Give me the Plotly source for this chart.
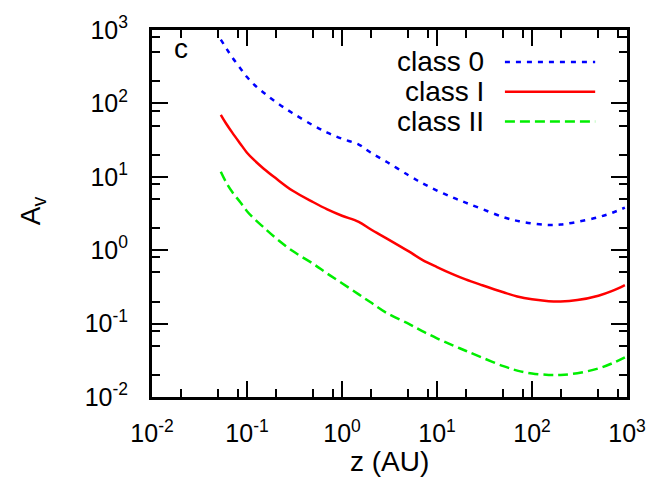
import plotly.graph_objects as go

# ---- data ----
z_au = [0.053, 0.06, 0.07, 0.085, 0.1, 0.12, 0.15, 0.2, 0.3, 0.5, 0.7, 1.0, 1.5, 2.0, 3.0,
        5.0, 7.0, 10, 15, 20, 30, 50, 70, 100, 150, 200, 300, 500, 700, 950]

av_class0 = [741, 575, 422, 302, 229, 178, 140, 105, 74, 50, 40, 33, 27.5, 21.4, 15.8,
             10.5, 8.2, 6.5, 5.15, 4.45, 3.63, 2.82, 2.51, 2.32, 2.21, 2.24, 2.43, 2.82, 3.24, 3.8]

av_classI = [70, 53.7, 40, 28.3, 21.3, 16.7, 12.9, 9.6, 6.5, 4.5, 3.6, 2.95, 2.43, 1.93, 1.43,
             0.97, 0.74, 0.59, 0.465, 0.40, 0.333, 0.267, 0.234, 0.214, 0.202, 0.20, 0.209, 0.24, 0.279, 0.335]

av_classII = [11.7, 8.5, 6.2, 4.5, 3.4, 2.65, 2.04, 1.47, 0.98, 0.65, 0.48, 0.355, 0.25, 0.195, 0.138,
              0.1, 0.079, 0.063, 0.050, 0.0427, 0.0343, 0.0263, 0.0229, 0.0209, 0.020, 0.020, 0.0211,
              0.0245, 0.0288, 0.0347]

series_names = ["class 0", "class I", "class II"]
series_values = [av_class0, av_classI, av_classII]
series_colors = ["#0000ff", "#ff0000", "#00ee00"]
series_dash = ["5px,6px", "solid", "10px,5px"]

decade_vals = [1e-2, 1e-1, 1e0, 1e1, 1e2, 1e3]
decade_text = ["10<sup>-2</sup>", "10<sup>-1</sup>", "10<sup>0</sup>",
               "10<sup>1</sup>", "10<sup>2</sup>", "10<sup>3</sup>"]
minor_mult = [2, 5, 8]
minor_vals = [m * d for d in decade_vals[:-1] for m in minor_mult]

FONT = "Liberation Sans, Arial, Helvetica, sans-serif"

fig = go.Figure()
for name, vals, col, dash in zip(series_names, series_values, series_colors, series_dash):
    fig.add_trace(go.Scatter(x=z_au, y=vals, mode="lines", name=name,
                             line=dict(color=col, width=2.5, dash=dash, shape="spline", smoothing=1.0),
                             showlegend=False, hoverinfo="skip"))

axis_common = dict(
    type="log", range=[-2, 3],
    tickmode="array", tickvals=decade_vals, ticktext=decade_text,
    ticks="inside", ticklen=16, tickwidth=2, tickcolor="black",
    showline=True, linewidth=3, linecolor="black", mirror="allticks",
    showgrid=False, zeroline=False,
    tickfont=dict(family=FONT, size=25, color="black"),
    minor=dict(tickmode="array", tickvals=minor_vals, ticks="inside",
               ticklen=8, tickwidth=2, tickcolor="black", showgrid=False),
)
fig.update_layout(
    xaxis=dict(**axis_common, ticklabelstandoff=12),
    yaxis=dict(**axis_common, ticklabelstandoff=16),
)

annotations = [
    dict(text="z (AU)", x=0.5, y=-0.176, xref="paper", yref="paper",
         xanchor="center", yanchor="middle", showarrow=False,
         font=dict(family=FONT, size=28, color="black")),
    dict(text="A<sub>v</sub>", x=-0.25, y=0.507, xref="paper", yref="paper",
         xanchor="center", yanchor="middle", showarrow=False, textangle=-90,
         font=dict(family=FONT, size=28, color="black")),
    dict(text="c", x=0.061, y=0.95, xref="paper", yref="paper",
         xanchor="center", yanchor="middle", showarrow=False,
         font=dict(family=FONT, size=28, color="black")),
]

shapes = []
leg_y = [0.913, 0.832, 0.751]
for name, col, dash, yy in zip(series_names, series_colors, series_dash, leg_y):
    annotations.append(dict(text=name, x=0.703, y=yy, xref="paper", yref="paper",
                            xanchor="right", yanchor="middle", showarrow=False,
                            font=dict(family=FONT, size=28, color="black")))
    shapes.append(dict(type="line", xref="paper", yref="paper",
                       x0=0.743, x1=0.933, y0=yy, y1=yy,
                       line=dict(color=col, width=2.5, dash=dash)))

fig.update_layout(
    width=665, height=487,
    margin=dict(l=152, r=38, t=28, b=90),
    paper_bgcolor="white", plot_bgcolor="white",
    annotations=annotations, shapes=shapes,
    font=dict(family=FONT, color="black"),
)

fig.write_html("out.html")
